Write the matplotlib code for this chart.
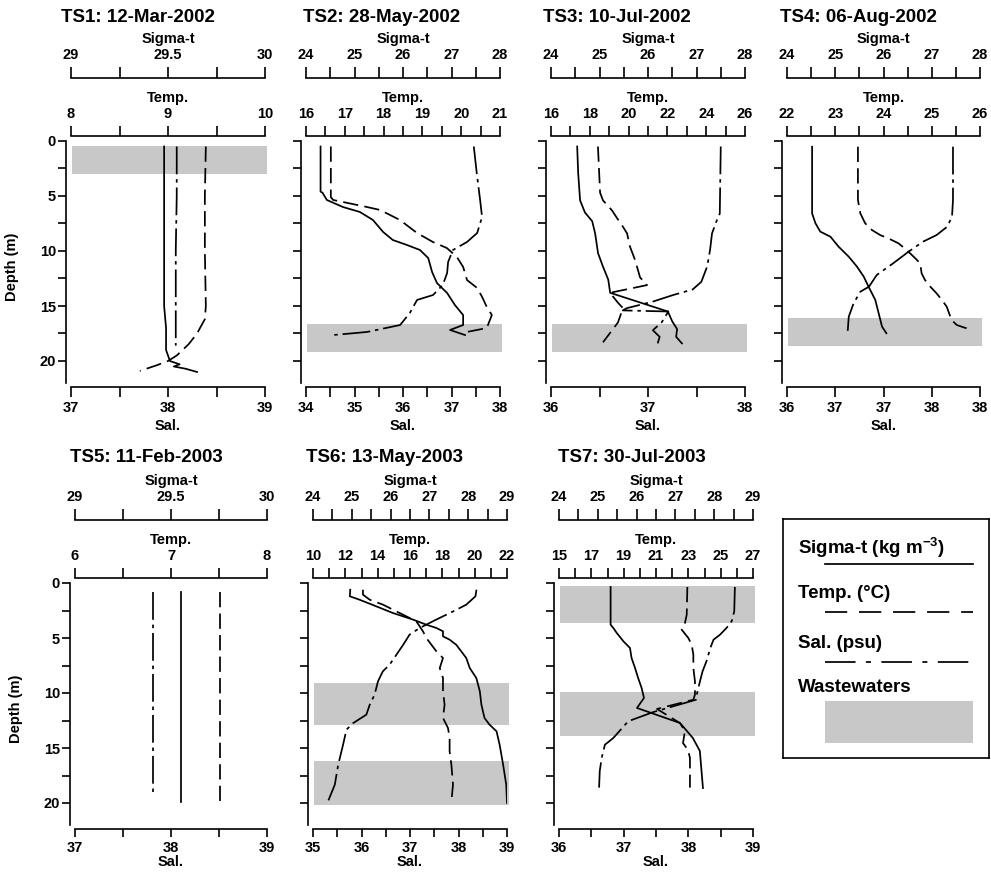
import numpy as np
import matplotlib
matplotlib.use('Agg')
import matplotlib.pyplot as plt
from matplotlib.patches import Rectangle
from matplotlib.ticker import MultipleLocator, FuncFormatter, FixedLocator, FixedFormatter, NullLocator

plt.rcParams['font.family'] = ['Liberation Sans', 'DejaVu Sans']
plt.rcParams['font.weight'] = 'bold'
plt.rcParams['mathtext.fontset'] = 'custom'
plt.rcParams['mathtext.rm'] = 'Liberation Sans:bold'
plt.rcParams['mathtext.bf'] = 'Liberation Sans:bold'
plt.rcParams['lines.scale_dashes'] = False
plt.rcParams['axes.linewidth'] = 1.2

# ---------------- data: depth (m) and value ----------------
# TS1 12-Mar-2002
ts1_sig_z = [0.5, 5, 10, 15, 17, 18, 19, 19.5, 20.0, 20.3, 20.5, 20.7, 21.0]
ts1_sig = [29.48, 29.48, 29.48, 29.48, 29.49, 29.49, 29.49, 29.50, 29.51, 29.56, 29.53, 29.59, 29.65]
ts1_tmp_z = [0.5, 5, 10, 15, 16.2, 17.0, 17.5, 18.5, 19.5, 20.0, 20.4, 20.9]
ts1_tmp = [9.39, 9.38, 9.38, 9.39, 9.38, 9.33, 9.30, 9.21, 9.09, 9.00, 8.88, 8.71]
ts1_sal_z = [0.5, 5, 10, 15, 18.6]
ts1_sal = [38.09, 38.09, 38.08, 38.08, 38.08]
ts1_waste = [(0.5, 3.0)]

# TS2 28-May-2002
ts2_sig_z = [0.5, 4.6, 4.7, 5.36, 6.0, 6.45, 7.18, 8.27, 9.0, 9.45, 9.91, 10.64, 11.91,
             12.91, 13.82, 14.91, 15.82, 16.73, 17.18, 17.64]
ts2_sig = [24.30, 24.30, 24.34, 24.43, 24.76, 25.11, 25.38, 25.59, 25.79, 26.08, 26.35, 26.52,
           26.60, 26.70, 26.91, 27.07, 27.24, 27.24, 26.97, 27.28]
ts2_tmp_z = [0.5, 5.1, 5.36, 6.0, 6.27, 7.18, 8.36, 9.18, 9.73, 10.55, 11.45, 12.64, 13.36,
             14.18, 15.09, 15.82, 17.0, 17.36]
ts2_tmp = [16.64, 16.64, 16.70, 17.57, 17.91, 18.42, 18.86, 19.27, 19.63, 19.89, 20.05, 20.15,
           20.41, 20.54, 20.66, 20.79, 20.66, 20.15]
ts2_sal_z = [0.5, 2.9, 5.36, 6.91, 8.36, 9.18, 9.91, 11.0, 12.0, 13.09, 14.0, 14.45, 15.64,
             16.73, 17.36, 17.64]
ts2_sal = [37.46, 37.52, 37.59, 37.63, 37.53, 37.32, 37.03, 36.93, 36.91, 36.82, 36.62, 36.29,
           36.14, 35.94, 35.26, 34.56]
ts2_waste = [(16.6, 19.15)]

# TS3 10-Jul-2002
ts3_sig_z = [0.5, 2.9, 5.4, 6.5, 7.3, 8.4, 10.2, 11.4, 12.6, 13.8, 15.5, 16.4, 17.1, 17.8, 18.4]
ts3_sig = [24.54, 24.56, 24.60, 24.70, 24.85, 24.91, 24.97, 25.07, 25.18, 25.22, 26.41, 26.50,
           26.60, 26.58, 26.70]
ts3_tmp_z = [0.5, 4.7, 5.4, 6.3, 7.0, 7.8, 8.4, 9.6, 10.8, 12.4, 13.1, 13.8, 14.7, 15.2, 16.5, 18.3]
ts3_tmp = [18.42, 18.53, 18.68, 19.14, 19.40, 19.71, 19.92, 20.07, 20.33, 20.59, 20.95, 19.04,
           19.45, 19.71, 19.45, 18.68]
ts3_sal_z = [0.5, 6.6, 7.2, 8.4, 9.9, 11.4, 12.8, 13.5, 14.0, 14.6, 15.2, 15.4, 15.5, 16.5,
             17.2, 17.8, 18.4]
ts3_sal = [37.75, 37.74, 37.71, 37.66, 37.64, 37.61, 37.55, 37.46, 37.26, 37.05, 36.78, 36.74,
           37.21, 37.14, 37.05, 37.12, 37.10]
ts3_waste = [(16.6, 19.15)]

# TS4 06-Aug-2002
ts4_sig_z = [0.52, 6.58, 7.48, 8.24, 8.70, 9.61, 10.52, 11.42, 12.33, 13.24, 14.45, 15.67, 16.88, 17.48]
ts4_sig = [24.52, 24.52, 24.59, 24.69, 24.90, 25.07, 25.28, 25.45, 25.59, 25.69, 25.83, 25.90,
           25.97, 26.06]
ts4_tmp_z = [0.52, 5.36, 6.58, 7.48, 8.09, 8.55, 8.85, 9.30, 9.91, 10.67, 11.12, 12.03, 12.64,
             13.24, 13.85, 14.45, 15.06, 16.27, 16.73, 17.03, 17.33]
ts4_tmp = [23.47, 23.47, 23.52, 23.62, 23.76, 23.93, 24.10, 24.31, 24.48, 24.66, 24.76, 24.79,
           24.86, 24.97, 25.10, 25.21, 25.31, 25.41, 25.52, 25.72, 25.79]
ts4_sal_z = [0.52, 5.36, 6.88, 7.79, 8.55, 9.15, 10.06, 11.12, 12.18, 13.24, 13.70, 14.76,
             15.97, 17.18, 17.48]
ts4_sal = [37.72, 37.72, 37.71, 37.66, 37.55, 37.41, 37.26, 37.10, 36.93, 36.85, 36.76, 36.69,
           36.64, 36.63, 36.61]
ts4_waste = [(16.1, 18.6)]
ts4_sal_ticks = [36, 36.5, 37, 37.5, 38]
ts4_sal_ticklabels = ['36', '37', '37', '38', '38']

# TS5 11-Feb-2003
ts5_sig_z = [0.8, 10, 19.9]
ts5_sig = [29.55, 29.55, 29.55]
ts5_tmp_z = [0.8, 10, 19.9]
ts5_tmp = [7.51, 7.51, 7.51]
ts5_sal_z = [0.8, 10, 19.3]
ts5_sal = [37.81, 37.81, 37.81]
ts5_waste = []

# TS6 13-May-2003
ts6_sig_z = [0.61, 1.21, 1.52, 2.12, 2.73, 3.33, 3.79, 4.09, 4.39, 4.85, 5.15, 5.61, 6.21, 6.82,
             7.73, 8.64, 9.85, 11.06, 12.27, 12.88, 13.48, 14.70, 16.52, 18.33, 20.0]
ts6_sig = [24.96, 24.95, 25.20, 25.63, 26.06, 26.58, 26.92, 27.18, 27.35, 27.35, 27.52, 27.69,
           27.82, 27.95, 28.04, 28.21, 28.30, 28.34, 28.42, 28.55, 28.73, 28.81, 28.90, 28.98, 29.0]
ts6_tmp_z = [0.61, 1.06, 1.52, 1.97, 2.73, 3.48, 4.39, 5.0, 6.21, 6.82, 7.73, 8.64, 9.85, 11.06,
             12.27, 13.18, 14.09, 15.30, 16.52, 18.33, 19.85]
ts6_tmp = [13.09, 13.09, 13.51, 14.33, 15.36, 16.39, 16.80, 17.01, 17.63, 18.04, 17.84, 18.04,
           18.04, 18.14, 18.04, 18.35, 18.45, 18.45, 18.56, 18.66, 18.56]
ts6_sal_z = [0.61, 1.21, 1.97, 2.58, 3.33, 4.09, 4.70, 5.61, 6.52, 7.42, 8.03, 8.94, 10.15,
             11.06, 11.97, 12.73, 13.33, 14.70, 16.52, 18.33, 19.85]
ts6_sal = [38.37, 38.35, 38.16, 37.89, 37.54, 37.20, 36.99, 36.86, 36.72, 36.58, 36.44, 36.34,
           36.27, 36.17, 36.10, 35.83, 35.69, 35.62, 35.52, 35.45, 35.31]
ts6_waste = [(9.1, 12.9), (16.2, 20.15)]

# TS7 30-Jul-2003
ts7_sig_z = [0.36, 3.79, 4.09, 4.55, 5.30, 5.91, 6.82, 7.73, 8.64, 9.55, 10.45, 11.36, 12.09,
             12.73, 14.09, 15.27, 18.64]
ts7_sig = [25.33, 25.33, 25.40, 25.49, 25.66, 25.83, 25.87, 25.96, 26.04, 26.13, 26.19, 26.01,
           26.60, 27.12, 27.45, 27.63, 27.71]
ts7_tmp_z = [0.36, 2.88, 3.64, 4.24, 5.0, 5.61, 6.52, 7.73, 8.94, 10.15, 10.61, 11.45, 12.73,
             13.45, 14.55, 15.18, 15.9, 18.6]
ts7_tmp = [22.94, 22.90, 22.79, 22.59, 23.00, 23.21, 23.31, 23.31, 23.41, 23.41, 23.31, 21.06,
           22.48, 22.79, 22.67, 22.98, 23.10, 23.10]
ts7_sal_z = [0.36, 2.58, 3.48, 4.09, 4.70, 5.15, 5.91, 7.12, 8.03, 8.94, 10.15, 10.61, 11.12,
             11.73, 12.57, 14.09, 14.70, 15.9, 17.1, 18.6]
ts7_sal = [38.72, 38.71, 38.67, 38.59, 38.49, 38.39, 38.34, 38.28, 38.22, 38.18, 38.13, 38.12,
           37.82, 37.46, 37.07, 36.84, 36.71, 36.66, 36.63, 36.62]
ts7_waste = [(0.3, 3.64), (9.9, 13.9)]

titles = ['TS1: 12-Mar-2002', 'TS2: 28-May-2002', 'TS3: 10-Jul-2002', 'TS4: 06-Aug-2002',
          'TS5: 11-Feb-2003', 'TS6: 13-May-2003', 'TS7: 30-Jul-2003']

# axis ranges: (low, high, labelled step, tick step)
sig_axes = [(29, 30, 0.5, 0.25), (24, 28, 1, 0.5), (24, 28, 1, 0.5), (24, 28, 1, 0.5),
            (29, 30, 0.5, 0.25), (24, 29, 1, 0.5), (24, 29, 1, 0.5)]
tmp_axes = [(8, 10, 1, 0.5), (16, 21, 1, 0.5), (16, 26, 2, 1), (22, 26, 1, 0.5),
            (6, 8, 1, 0.5), (10, 22, 2, 1), (15, 27, 2, 1)]
sal_axes = [(37, 39, 1, 0.5), (34, 38, 1, 0.5), (36, 38, 1, 0.5), (36, 38, 0.5, 0.5),
            (37, 39, 1, 0.5), (35, 39, 1, 0.5), (36, 39, 1, 0.5)]

profiles = [
    (ts1_sig_z, ts1_sig, ts1_tmp_z, ts1_tmp, ts1_sal_z, ts1_sal, ts1_waste),
    (ts2_sig_z, ts2_sig, ts2_tmp_z, ts2_tmp, ts2_sal_z, ts2_sal, ts2_waste),
    (ts3_sig_z, ts3_sig, ts3_tmp_z, ts3_tmp, ts3_sal_z, ts3_sal, ts3_waste),
    (ts4_sig_z, ts4_sig, ts4_tmp_z, ts4_tmp, ts4_sal_z, ts4_sal, ts4_waste),
    (ts5_sig_z, ts5_sig, ts5_tmp_z, ts5_tmp, ts5_sal_z, ts5_sal, ts5_waste),
    (ts6_sig_z, ts6_sig, ts6_tmp_z, ts6_tmp, ts6_sal_z, ts6_sal, ts6_waste),
    (ts7_sig_z, ts7_sig, ts7_tmp_z, ts7_tmp, ts7_sal_z, ts7_sal, ts7_waste),
]

# ---------------- layout (pixels) ----------------
W, H = 991, 876
PX = 0.72  # points per pixel at dpi 100
panel_x = [(71, 265), (306, 500), (551, 745), (787, 980), (75, 267), (313, 507), (559, 753)]
panel_top = [141, 141, 141, 141, 583, 583, 583]
title_x = [61, 303, 543, 780, 70, 306, 558]
title_y = [17, 17, 17, 17, 457, 457, 457]
sal_tick_len = [10, 10, 10, 10, 8, 8, 8]
sal_label_y = [-0.148, -0.148, -0.148, -0.148, -0.125, -0.125, -0.125]
PANEL_H = 242
SHADE = '#c8c8c8'
LW = 1.25
TMP_DASH = (11, 4.5)
SAL_DASH = (20, 3.5, 2.5, 3.5)
TICK_FS = 10.5
LABEL_FS = 10.5

fig = plt.figure(figsize=(W / 100, H / 100), dpi=100)


def px_rect(x0, x1, ytop, ybot):
    return [x0 / W, 1 - ybot / H, (x1 - x0) / W, (ybot - ytop) / H]


def g_fmt(v, pos):
    return f'{v:g}'


def set_ticks(axis, spec):
    lo, hi, major, minor = spec
    axis.set_major_locator(FixedLocator(np.arange(lo, hi + 1e-9, major)))
    axis.set_minor_locator(FixedLocator(np.arange(lo, hi + 1e-9, minor)))
    axis.set_major_formatter(FuncFormatter(g_fmt))


for i in range(7):
    x0, x1 = panel_x[i]
    top = panel_top[i]
    sig_z, sig, tmp_z, tmp, sal_z, sal, waste = profiles[i]

    ax = fig.add_axes(px_rect(x0, x1, top, top + PANEL_H))
    ax.set_ylim(22, 0)
    ax.set_xlim(sal_axes[i][0], sal_axes[i][1])
    ax.spines['top'].set_visible(False)
    ax.spines['right'].set_visible(False)
    ax.spines['left'].set_position(('outward', 5 * PX))
    ax.spines['bottom'].set_position(('outward', 4 * PX))
    ax.yaxis.set_major_locator(MultipleLocator(5))
    ax.yaxis.set_minor_locator(MultipleLocator(2.5))
    ax.tick_params(axis='y', which='both', direction='out', length=8 * PX, width=1.2,
                   pad=1.5, labelsize=TICK_FS)
    if i in (0, 4):
        ax.set_ylabel('Depth (m)', fontsize=LABEL_FS, fontweight='bold')
        ax.yaxis.set_label_coords(-0.27, 0.48)
    else:
        ax.tick_params(axis='y', labelleft=False)

    if i == 3:
        ax.xaxis.set_major_locator(FixedLocator(ts4_sal_ticks))
        ax.xaxis.set_major_formatter(FixedFormatter(ts4_sal_ticklabels))
        ax.xaxis.set_minor_locator(NullLocator())
    else:
        set_ticks(ax.xaxis, sal_axes[i])
    ax.tick_params(axis='x', which='both', direction='out', length=sal_tick_len[i] * PX,
                   width=1.2, pad=3, labelsize=TICK_FS)
    ax.set_xlabel('Sal.', fontsize=LABEL_FS, fontweight='bold')
    ax.xaxis.set_label_coords(0.5, sal_label_y[i])

    for d0, d1 in waste:
        ax.axhspan(d0, d1, xmin=0.005, xmax=1.012, color=SHADE, lw=0, zorder=0, clip_on=False)
    ax.plot(sal, sal_z, color='k', lw=LW, dashes=SAL_DASH)

    # temperature axis (top, just above depth 0)
    axT = ax.twiny()
    axT.set_xlim(tmp_axes[i][0], tmp_axes[i][1])
    for s in ('left', 'right', 'bottom'):
        axT.spines[s].set_visible(False)
    axT.spines['top'].set_position(('outward', 5 * PX))
    set_ticks(axT.xaxis, tmp_axes[i])
    axT.tick_params(axis='x', which='both', direction='out', length=10 * PX, width=1.2,
                    pad=3.5, labelsize=TICK_FS)
    axT.set_xlabel('Temp.', fontsize=LABEL_FS, fontweight='bold')
    axT.xaxis.set_label_coords(0.5, 1.16)
    axT.plot(tmp, tmp_z, color='k', lw=LW, dashes=TMP_DASH)

    # sigma-t axis (top, further up)
    axS = ax.twiny()
    axS.set_xlim(sig_axes[i][0], sig_axes[i][1])
    for s in ('left', 'right', 'bottom'):
        axS.spines[s].set_visible(False)
    axS.spines['top'].set_position(('outward', 63 * PX))
    set_ticks(axS.xaxis, sig_axes[i])
    axS.tick_params(axis='x', which='both', direction='out', length=11 * PX, width=1.2,
                    pad=3.5, labelsize=TICK_FS)
    axS.set_xlabel('Sigma-t', fontsize=LABEL_FS, fontweight='bold')
    axS.xaxis.set_label_coords(0.5, 1.405)
    axS.plot(sig, sig_z, color='k', lw=LW, linestyle='-')

    fig.text(title_x[i] / W, 1 - title_y[i] / H, titles[i], ha='left', va='center',
             fontsize=13.5, fontweight='bold')

# ---------------- legend box ----------------
lax = fig.add_axes(px_rect(783, 989, 519, 758))
lax.set_xlim(0, 1)
lax.set_ylim(0, 1)
lax.set_xticks([])
lax.set_yticks([])
for s in lax.spines.values():
    s.set_linewidth(1.2)
LFS = 13.5
lax.text(0.073, 0.879, r'Sigma-t (kg m$^{-3}$)', fontsize=LFS, va='center', fontweight='bold')
lax.plot([0.204, 0.922], [0.812, 0.812], color='k', lw=LW)
lax.text(0.073, 0.690, 'Temp. (°C)', fontsize=LFS, va='center', fontweight='bold')
lax.plot([0.204, 0.922], [0.611, 0.611], color='k', lw=LW, dashes=(16, 8.5))
lax.text(0.073, 0.481, 'Sal. (psu)', fontsize=LFS, va='center', fontweight='bold')
lax.plot([0.204, 0.922], [0.402, 0.402], color='k', lw=LW, dashes=(22, 7.5, 3.6, 7.5))
lax.text(0.073, 0.293, 'Wastewaters', fontsize=LFS, va='center', fontweight='bold')
lax.add_patch(Rectangle((0.204, 0.063), 0.718, 0.175, color=SHADE, lw=0))

fig.savefig('out.png', dpi=100)
